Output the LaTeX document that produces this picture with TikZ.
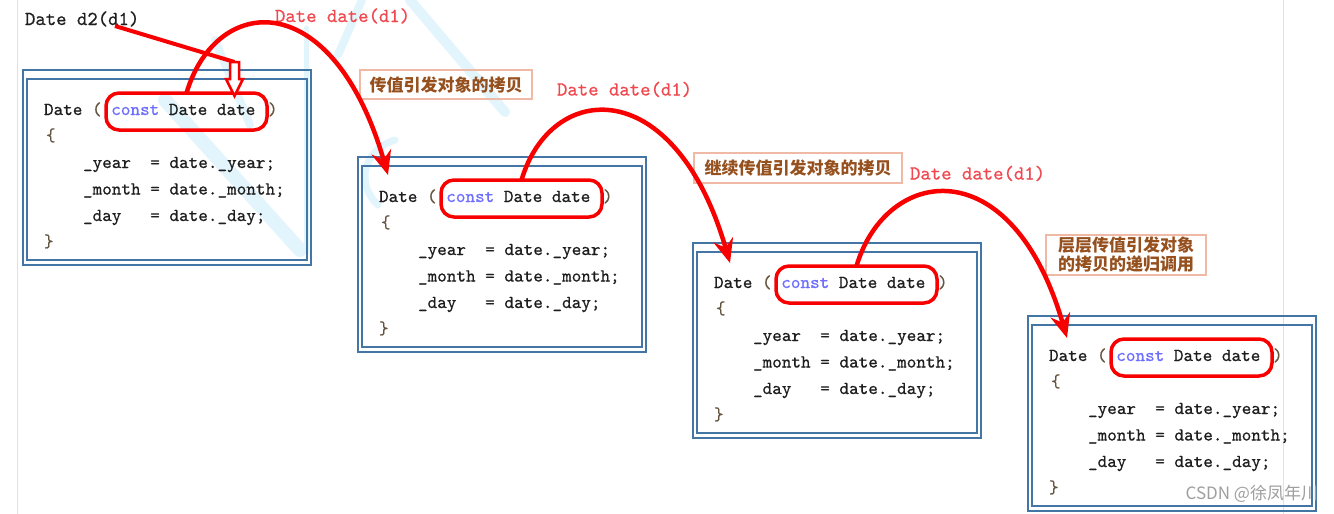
\documentclass[tikz,border=0pt]{standalone}
\usepackage{fontspec}
\setmonofont{lmmono10-regular.otf}[FakeBold=0.6]
\newfontfamily\cjk{Noto Sans CJK SC}
\usetikzlibrary{arrows.meta,calc}
\definecolor{boxblue}{RGB}{68,118,165}
\definecolor{arcred}{RGB}{248,0,0}
\definecolor{lblred}{RGB}{240,72,78}
\definecolor{brownt}{RGB}{150,80,30}
\definecolor{peach}{RGB}{240,185,165}
\definecolor{kwblue}{RGB}{110,110,255}
\definecolor{codeblack}{RGB}{30,30,30}
\definecolor{bracecol}{RGB}{100,85,65}
\definecolor{faint}{RGB}{225,225,225}
\definecolor{wmblue}{RGB}{226,244,252}
\newcommand\codebox[3]{%
  \coordinate (#1) at (#2,#3);
  \begin{scope}[shift={(#2,#3)}]
    \draw[boxblue, line width=2.8pt] (0,0) rectangle (288,195);
    \draw[boxblue, line width=2pt] (4,9) rectangle (284,190);
    \node[code] (#1-sig) at (21,45) {Date {\color{bracecol}(} {\color{kwblue}const} Date date \kern3pt{\color{bracecol})}};
    \node[code, text=bracecol] (#1-ob) at (23,71) {\{};
    \node[code] (#1-y) at (60,98) {\_year\ \ = date.\_year;};
    \node[code] (#1-m) at (60,124.5) {\_month = date.\_month;};
    \node[code] (#1-d) at (60,151) {\_day\ \ \ = date.\_day;};
    \node[code, text=bracecol] (#1-cb) at (21,177) {\}};
    \node[redbox] (#1-r) at (163.5,41.5) {};
  \end{scope}}
\begin{document}
\begin{tikzpicture}[x=1pt,y=-1pt,
  every node/.style={inner sep=0pt, outer sep=0pt},
  code/.style={anchor=base west, font=\fontsize{18.3}{20}\selectfont\ttfamily, text=codeblack},
  title/.style={anchor=base west, font=\fontsize{19.8}{22}\selectfont\ttfamily, text=codeblack},
  redlbl/.style={title, text=lblred},
  redbox/.style={draw=arcred, line width=3.5pt, rounded corners=13pt, minimum width=161pt, minimum height=37pt},
  arc/.style={draw=arcred, line width=4.5pt, -{Stealth[length=24pt,width=20pt,inset=8pt]}},
  wm/.style={draw=wmblue, line cap=round},
  note/.style={draw=peach, line width=1.3pt, font=\fontsize{17}{19}\selectfont\cjk\bfseries, text=brownt, align=center}]
\fill[white] (0,0) rectangle (1334,514);
\useasboundingbox (0,0) rectangle (1334,514);
\draw[faint, line width=1pt] (17,0) -- (17,514);
\draw[faint, line width=1pt] (1283,0) -- (1283,514);

% faint watermark strokes
\draw[wm, line width=14pt] (165,100) -- (300,250);
\draw[wm, line width=5pt] (306,28) -- (306,252);
\draw[wm, line width=10pt] (410,0) -- (505,112);
\draw[wm, line width=8pt] (362,0) -- (338,55);
\draw[wm, line width=7pt] (395,140) .. controls (362,150) and (356,185) .. (378,205);
\draw[wm, line width=8pt] (215,40) -- (250,125);

\codebox{b1}{23}{70}
\codebox{b2}{358}{157}
\codebox{b3}{693}{243}
\codebox{b4}{1028}{316}

\node[title] (top) at (25,25) {Date d2(d1)};
\node[redlbl] (L1) at (275,22) {Date date(d1)};
\node[redlbl] (L2) at (557,95.5) {Date date(d1)};
\node[redlbl] (L3) at (910,179.5) {Date date(d1)};

\node[note, minimum width=172pt, minimum height=29pt] (n1) at (446,84.5) {传值引发对象的拷贝};
\node[note, minimum width=208pt, minimum height=30pt] (n2) at (798,168) {继续传值引发对象的拷贝};
\node[note, minimum width=160pt, minimum height=40pt] (n3) at (1126,255) {层层传值引发对象\\的拷贝的递归调用};

\coordinate (t2) at ($(b2)+(30,18)$);
\coordinate (t3) at ($(b3)+(37,20)$);
\coordinate (t4) at ($(b4)+(39,22)$);
\draw[arc] (b1-r.north) .. controls +(30,-100) and +(-55,-190) .. (t2);
\draw[arc] (b2-r.north) .. controls +(30,-100) and +(-55,-190) .. (t3);
\draw[arc] (b3-r.north) .. controls +(30,-100) and +(-55,-190) .. (t4);

\coordinate (d1) at (115,26);
\coordinate (bat) at (234.5,62);
\draw[arcred, line width=4pt] (d1) -- (bat);
\draw[arcred, line width=2.5pt, fill=white, line join=miter] (bat) ++(-4.5,0) -- ++(9,0) -- ++(0,17) -- ++(4,0) -- ++(-8.5,17) -- ++(-8.5,-17) -- ++(4,0) -- cycle;

\node[anchor=east, font=\fontsize{17}{17}\selectfont\cjk, text=gray!75] (wm) at (1318,494) {CSDN @徐凤年川};
\end{tikzpicture}
\end{document}
